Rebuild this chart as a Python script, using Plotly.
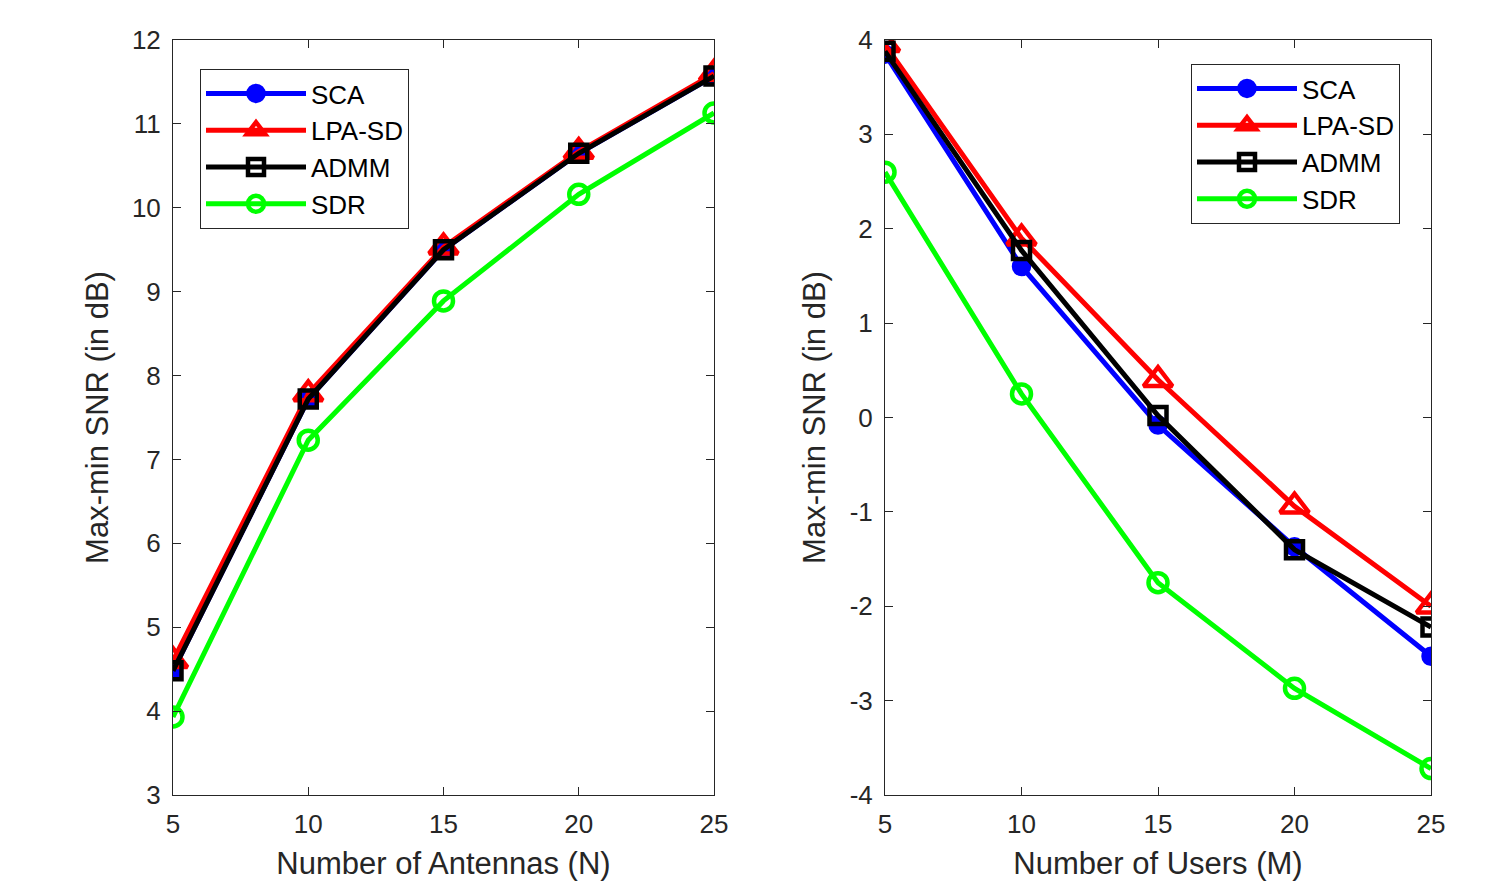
import plotly.graph_objects as go

x_vals = [5, 10, 15, 20, 25]
series_names = ["SCA", "LPA-SD", "ADMM", "SDR"]

# Left panel: Number of Antennas (N)
left_sca = [4.48, 7.72, 9.50, 10.65, 11.57]
left_lpa = [4.60, 7.78, 9.53, 10.67, 11.60]
left_admm = [4.48, 7.72, 9.50, 10.65, 11.57]
left_sdr = [3.93, 7.23, 8.89, 10.16, 11.13]

# Right panel: Number of Users (M)
right_sca = [3.85, 1.60, -0.08, -1.37, -2.53]
right_lpa = [3.95, 1.90, 0.40, -0.94, -2.00]
right_admm = [3.88, 1.77, 0.02, -1.40, -2.22]
right_sdr = [2.60, 0.25, -1.75, -2.87, -3.72]

left_yticks = [3, 4, 5, 6, 7, 8, 9, 10, 11, 12]
right_yticks = [-4, -3, -2, -1, 0, 1, 2, 3, 4]

colors = ["#0000FF", "#FF0000", "#000000", "#00FF00"]
symbols = ["circle", "triangle-up-open", "square-open", "circle-open"]
sizes = [15, 25, 17, 19]

fig = go.Figure()

def add_panel(data, xa, ya, legend):
    for name, ys, c, s, sz in zip(series_names, data, colors, symbols, sizes):
        fig.add_trace(go.Scatter(
            x=x_vals, y=ys, name=name, mode="lines+markers",
            line=dict(color=c, width=5),
            marker=dict(symbol=s, size=sz, color=c, line=dict(color=c, width=4.5)),
            xaxis=xa, yaxis=ya, legend=legend,
        ))

add_panel([left_sca, left_lpa, left_admm, left_sdr], "x", "y", "legend")
add_panel([right_sca, right_lpa, right_admm, right_sdr], "x2", "y2", "legend2")

W, H = 1494, 885
OFF = 7  # page offset observed in rendering
font = "Liberation Sans, Arial, Helvetica, sans-serif"
axis_common = dict(
    showline=True, linecolor="#262626", linewidth=1, mirror="allticks",
    ticks="inside", ticklen=8, tickcolor="#262626", showgrid=False, zeroline=False,
    tickfont=dict(size=26, color="#262626", family=font), automargin=False,
)

def px(x):
    return (x - OFF) / W

def py(y):
    return 1 - (y - OFF) / H

xtitle_font = dict(size=31)
fig.update_layout(
    width=W, height=H,
    margin=dict(l=0, r=0, t=0, b=0),
    plot_bgcolor="white", paper_bgcolor="white",
    font=dict(family=font, color="#262626"),
    xaxis=dict(domain=[px(172), px(713)], range=[5, 25], tickvals=x_vals,
               ticklabelstandoff=6,
               title=dict(text="Number of Antennas (N)", font=xtitle_font, standoff=14),
               anchor="y", **axis_common),
    yaxis=dict(domain=[py(794), py(39)], range=[3, 12],
               tickvals=left_yticks, ticktext=[str(v) for v in left_yticks],
               ticklabelstandoff=6,
               title=dict(text="Max-min SNR (in dB)", font=xtitle_font, standoff=14),
               anchor="x", **axis_common),
    xaxis2=dict(domain=[px(884), px(1430)], range=[5, 25], tickvals=x_vals,
                ticklabelstandoff=6,
                title=dict(text="Number of Users (M)", font=xtitle_font, standoff=14),
                anchor="y2", **axis_common),
    yaxis2=dict(domain=[py(794), py(39)], range=[-4, 4],
                tickvals=right_yticks, ticktext=[str(v) for v in right_yticks],
                ticklabelstandoff=6,
                title=dict(text="Max-min SNR (in dB)", font=xtitle_font, standoff=14),
                anchor="x2", **axis_common),
    legend=dict(x=px(199), y=py(68), xanchor="left", yanchor="top",
                bordercolor="#262626", borderwidth=1, bgcolor="white",
                font=dict(size=26, color="black"), tracegroupgap=0, itemwidth=100),
    legend2=dict(x=px(1190), y=py(63), xanchor="left", yanchor="top",
                 bordercolor="#262626", borderwidth=1, bgcolor="white",
                 font=dict(size=26, color="black"), tracegroupgap=0, itemwidth=100),
    showlegend=True,
)

fig.write_html("out.html")
